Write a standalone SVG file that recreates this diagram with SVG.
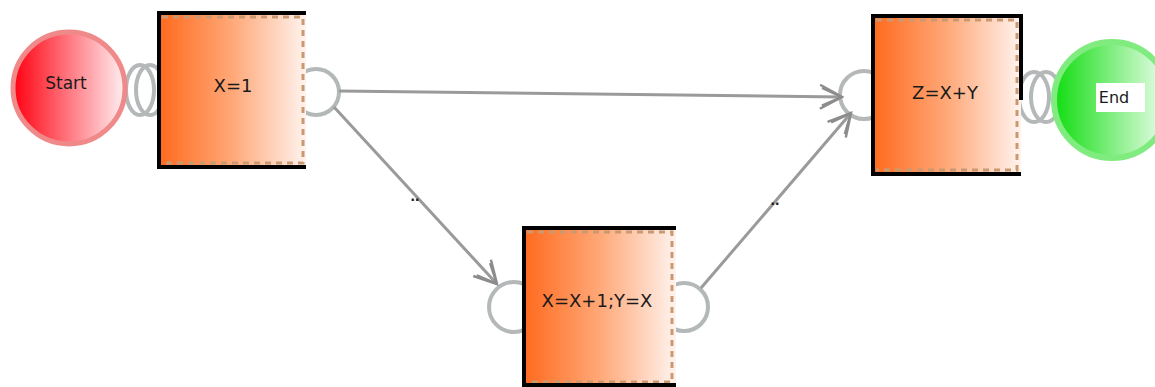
<svg xmlns="http://www.w3.org/2000/svg" width="1155" height="387" viewBox="0 0 1155 387">
<defs>
<linearGradient id="boxg" x1="0" y1="0" x2="1" y2="0">
<stop offset="0" stop-color="#ff6a1e"/>
<stop offset="0.5" stop-color="#ffa878"/>
<stop offset="1" stop-color="#fff3ee"/>
</linearGradient>
<linearGradient id="redg" x1="0" y1="0" x2="1" y2="0">
<stop offset="0" stop-color="#ff0010"/>
<stop offset="1" stop-color="#fff0f2"/>
</linearGradient>
<linearGradient id="greeng" x1="0" y1="0" x2="1" y2="0">
<stop offset="0" stop-color="#10dd10"/>
<stop offset="1" stop-color="#f2fff2"/>
</linearGradient>
<marker id="arr" markerWidth="30" markerHeight="30" refX="26" refY="15" orient="auto" markerUnits="userSpaceOnUse">
<path d="M4,3 L26,15 L4,27 M6,6 L26,15 M6,24 L26,15" fill="none" stroke="#8c8c8c" stroke-width="2.5"/>
</marker>
</defs>
<style>
.port{fill:none;stroke:#b4b8b8;stroke-width:4}
.conn{fill:none;stroke:#9a9a9a;stroke-width:3}
.box{fill:url(#boxg)}
.dash{fill:none;stroke:#c99a72;stroke-width:3;stroke-dasharray:6,5}
.edge{fill:none;stroke:#000;stroke-width:4}
.lbl{font-family:"DejaVu Sans","Liberation Sans",sans-serif;font-size:18px;fill:#1a1a1a;text-anchor:middle}
.dots{font-family:"Liberation Sans",sans-serif;font-size:16px;fill:#222;text-anchor:middle;font-weight:bold}
</style>
<rect width="1155" height="387" fill="#fff"/>
<g id="connectors">
<ellipse class="port" cx="140" cy="90" rx="14" ry="25"/>
<ellipse class="port" cx="150" cy="90" rx="14" ry="25"/>
<circle class="port" cx="316" cy="92" r="23"/>
<circle class="port" cx="864" cy="95" r="24"/>
<ellipse class="port" cx="1034" cy="97" rx="15" ry="25"/>
<ellipse class="port" cx="1046" cy="97" rx="15" ry="25"/>
<circle class="port" cx="514" cy="307" r="25"/>
<circle class="port" cx="684" cy="307" r="24"/>
<path class="conn" d="M339,91 L842,97" marker-end="url(#arr)"/>
<path class="conn" d="M334,107 L497,284" marker-end="url(#arr)"/>
<path class="conn" d="M701,288 L851,113" marker-end="url(#arr)"/>
<text class="dots" x="415" y="201">..</text>
<text class="dots" x="775" y="205">..</text>
</g>
<g id="start">
<circle cx="69" cy="88" r="56" fill="url(#redg)" stroke="#f08a8a" stroke-width="5"/>
<text class="lbl" x="66" y="89" style="font-size:17px">Start</text>
</g>
<g id="n1">
<rect class="box" x="159" y="13" width="147" height="154"/>
<path class="dash" d="M162,17 H303 V163 H162"/>
<path class="edge" d="M306,13 H159 V167 H306"/>
<text class="lbl" x="233" y="92">X=1</text>
</g>
<g id="n2">
<rect class="box" x="524" y="228" width="152" height="158"/>
<path class="dash" d="M527,232 H672 V382 H527"/>
<path class="edge" d="M676,228 H524 V385 H676"/>
<text class="lbl" x="597" y="307">X=X+1;Y=X</text>
</g>
<g id="n3">
<rect class="box" x="873" y="16" width="148" height="158"/>
<path class="dash" d="M876,20 H1017 V170 H876"/>
<path class="edge" d="M1021,100 V16 H873 V174 H1021"/>
<text class="lbl" x="945" y="99">Z=X+Y</text>
</g>
<g id="end">
<circle cx="1112" cy="100" r="58" fill="url(#greeng)" stroke="#80ec80" stroke-width="6"/>
<rect x="1096" y="83" width="49" height="29" fill="#fff"/>
<text class="lbl" x="1114" y="103" style="font-size:16px">End</text>
</g>
</svg>
